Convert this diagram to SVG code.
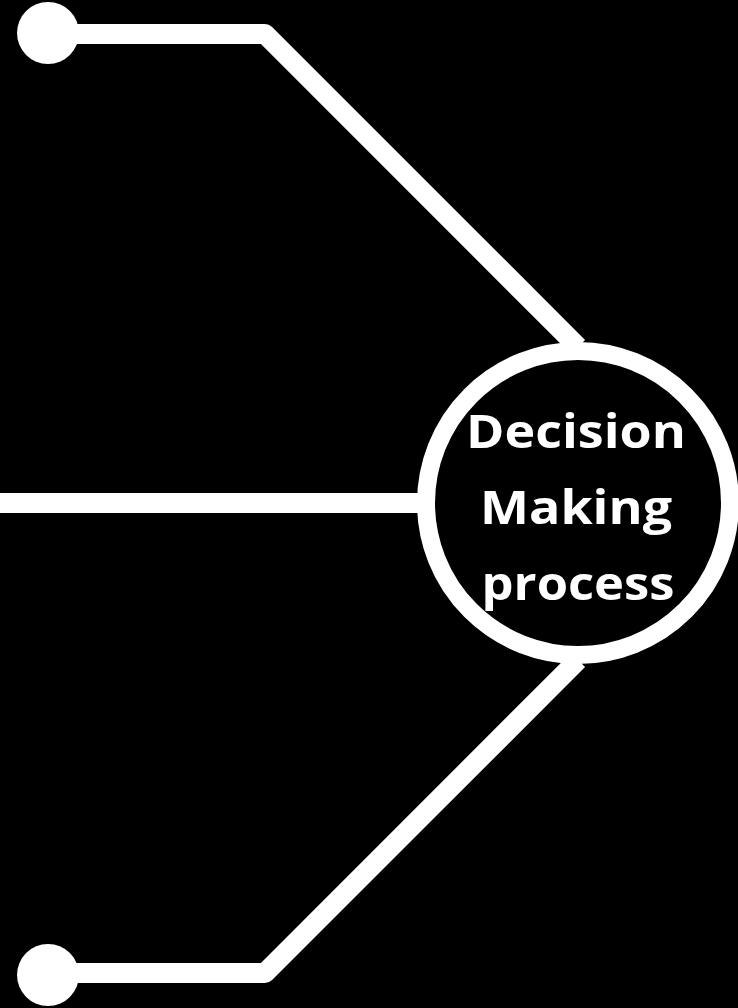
<svg xmlns="http://www.w3.org/2000/svg" width="738" height="1008" viewBox="0 0 738 1008">
  <style>
    .wire { fill: none; stroke: #ffffff; stroke-width: 20; stroke-linejoin: round; }
    .pad { fill: #ffffff; }
    .hub { fill: #000000; stroke: #ffffff; stroke-width: 18; }
    .label { font-family: "Open Sans", "Liberation Sans", sans-serif; font-weight: 700; font-size: 47px; fill: #ffffff; text-anchor: middle; }
  </style>
  <rect width="738" height="1008" fill="#000000"/>
  <g id="connectors">
    <polyline class="wire" points="48,34 265,34 578,347"/>
    <line class="wire" x1="0" y1="503" x2="578" y2="503"/>
    <polyline class="wire" points="48,973 265,973 578,660"/>
  </g>
  <g id="pad-top">
    <circle class="pad" cx="48" cy="33" r="31"/>
  </g>
  <g id="pad-bottom">
    <circle class="pad" cx="48" cy="975" r="31"/>
  </g>
  <g id="decision-making">
    <circle class="hub" cx="578" cy="503" r="152"/>
    <text class="label" x="576" y="448" textLength="220" lengthAdjust="spacingAndGlyphs">Decision</text>
    <text class="label" x="576" y="524" textLength="192" lengthAdjust="spacingAndGlyphs">Making</text>
    <text class="label" x="578" y="600" textLength="193" lengthAdjust="spacingAndGlyphs">process</text>
  </g>
</svg>
